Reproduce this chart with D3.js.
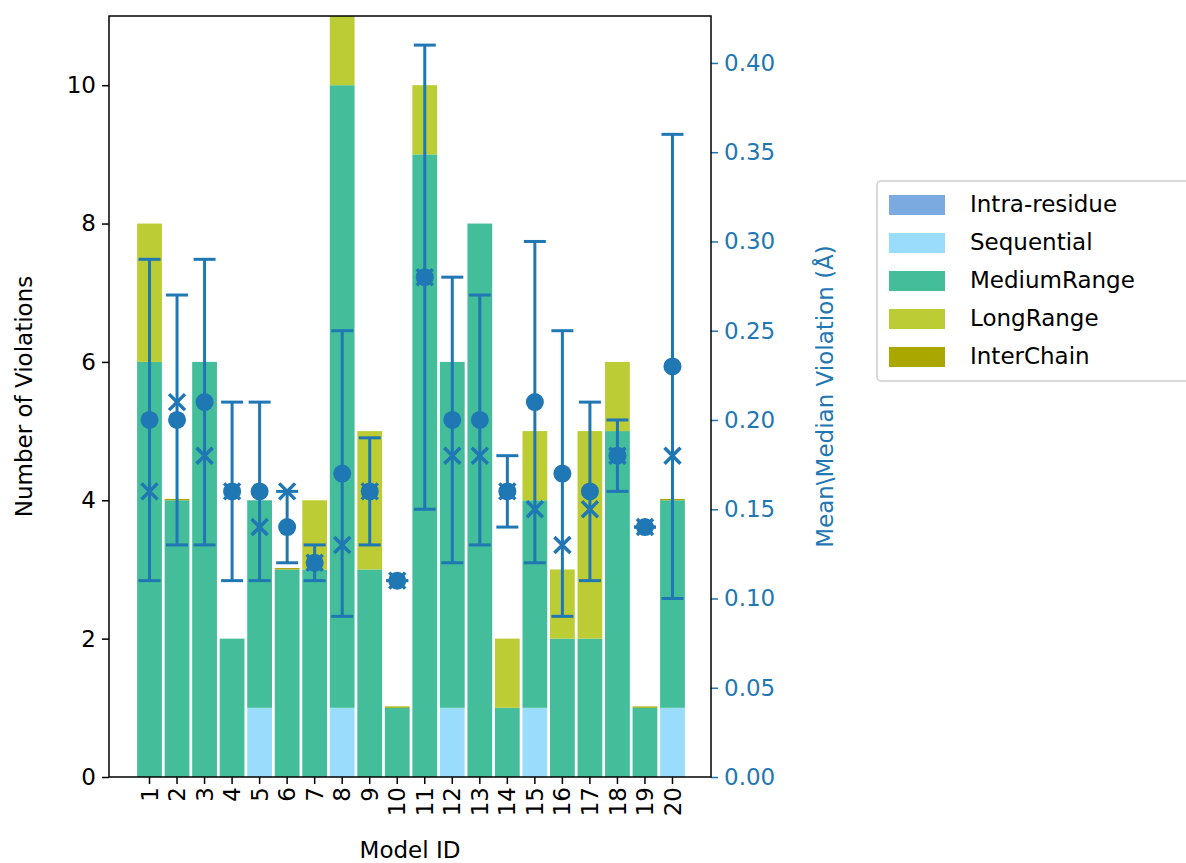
<!DOCTYPE html>
<html><head><meta charset="utf-8">
<script src="https://cdn.jsdelivr.net/npm/d3@7"></script>
<style>body{margin:0;background:#fff}text{font-family:"DejaVu Sans",sans-serif}</style>
</head><body><svg id="chart" width="1186" height="863"></svg>
<script>
const models = d3.range(1, 21).map(String);
const intraResidue = [0,0,0,0,0,0,0,0,0,0,0,0,0,0,0,0,0,0,0,0];
const sequential   = [0,0,0,0,1,0,0,1,0,0,0,1,0,0,1,0,0,0,0,1];
const mediumRange  = [6,4,6,2,3,3,3,9,3,1,9,5,8,1,3,2,2,5,1,3];
const longRange    = [2,0,0,0,0,0,1,1.2,2,0,1,0,0,1,1,1,3,1,0,0];
const interChain   = [0,0.02,0,0,0,0.02,0,0,0,0.02,0,0,0,0,0,0,0,0,0.02,0.02];
const meanViol   = [0.20,0.20,0.21,0.16,0.16,0.14,0.12,0.17,0.16,0.11,0.28,0.20,0.20,0.16,0.21,0.17,0.16,0.18,0.14,0.23];
const medianViol = [0.16,0.21,0.18,0.16,0.14,0.16,0.12,0.13,0.16,0.11,0.28,0.18,0.18,0.16,0.15,0.13,0.15,0.18,0.14,0.18];
const errLow  = [0.11,0.13,0.13,0.11,0.11,0.12,0.11,0.09,0.13,0.11,0.15,0.12,0.13,0.14,0.12,0.09,0.11,0.16,0.14,0.10];
const errHigh = [0.29,0.27,0.29,0.21,0.21,0.16,0.13,0.25,0.19,0.11,0.41,0.28,0.27,0.18,0.30,0.25,0.21,0.20,0.14,0.36];
const seriesNames = ["Intra-residue","Sequential","MediumRange","LongRange","InterChain"];
const seriesData = [intraResidue, sequential, mediumRange, longRange, interChain];
const colors = ["#7aaadf","#9adcfc","#44bd9a","#bccc34","#aaa800"];
const blue = "#1f77b4";

const svg = d3.select("#chart");
const L = 109, R = 711, T = 16, B = 777;
// bars sit inside matplotlib-style margins
const x = d3.scaleBand().domain(models).range([135.75, 686.25]).paddingInner(0.1).paddingOuter(0.05);
const y = d3.scaleLinear().domain([0, 11]).range([B, T]);
const y2 = d3.scaleLinear().domain([0, 0.4263]).range([B, T]);

const g = svg.append("g");
models.forEach((m, i) => {
  let base = 0;
  seriesData.forEach((s, k) => {
    const v = s[i];
    if (v > 0) {
      g.append("rect").attr("x", x(m)).attr("width", x.bandwidth())
        .attr("y", y(Math.min(base + v, 11))).attr("height", y(base) - y(Math.min(base + v, 11)))
        .attr("fill", colors[k]);
    }
    base += v;
  });
});

// error bars
const cx = m => x(m) + x.bandwidth() / 2;
models.forEach((m, i) => {
  const c = cx(m);
  g.append("line").attr("x1", c).attr("x2", c).attr("y1", y2(errLow[i])).attr("y2", y2(errHigh[i]))
    .attr("stroke", blue).attr("stroke-width", 3);
  [errLow[i], errHigh[i]].forEach(v => g.append("line").attr("x1", c - 11).attr("x2", c + 11)
    .attr("y1", y2(v)).attr("y2", y2(v)).attr("stroke", blue).attr("stroke-width", 3));
  g.append("circle").attr("cx", c).attr("cy", y2(meanViol[i])).attr("r", 9).attr("fill", blue);
  const my = y2(medianViol[i]);
  g.append("path").attr("d", `M${c-8},${my-8}L${c+8},${my+8}M${c-8},${my+8}L${c+8},${my-8}`)
    .attr("stroke", blue).attr("stroke-width", 3.5);
});

// axes
const fs = 23;
const ax = svg.append("g").attr("transform", `translate(0,${B})`)
  .call(d3.axisBottom(x).tickSize(7).tickPadding(4));
ax.selectAll("text").attr("transform", "rotate(-90)").attr("text-anchor", "end")
  .attr("x", -10).attr("y", 0).attr("dy", "0.35em").attr("font-size", fs).attr("fill", "#000");
const ay = svg.append("g").attr("transform", `translate(${L},0)`)
  .call(d3.axisLeft(y).tickValues([0,2,4,6,8,10]).tickSize(7).tickPadding(6));
ay.selectAll("text").attr("font-size", fs).attr("fill", "#000");
const ay2 = svg.append("g").attr("transform", `translate(${R},0)`)
  .call(d3.axisRight(y2).tickValues(d3.range(0, 0.41, 0.05)).tickFormat(d3.format(".2f")).tickSize(7).tickPadding(6));
ay2.selectAll("text").attr("font-size", fs).attr("fill", blue);
ay2.selectAll("line").attr("stroke", blue);
[ax, ay, ay2].forEach(a => { a.select(".domain").remove(); a.selectAll("line").attr("stroke-width", 1.5); });
svg.append("rect").attr("x", L).attr("y", T).attr("width", R - L).attr("height", B - T)
  .attr("fill", "none").attr("stroke", "#000").attr("stroke-width", 1.5);

svg.append("text").attr("x", (L + R) / 2).attr("y", 858).attr("text-anchor", "middle")
  .attr("font-size", fs).text("Model ID");
svg.append("text").attr("transform", `translate(32,${(T+B)/2}) rotate(-90)`).attr("text-anchor", "middle")
  .attr("font-size", fs).text("Number of Violations");
svg.append("text").attr("transform", `translate(833,${(T+B)/2}) rotate(-90)`).attr("text-anchor", "middle")
  .attr("font-size", fs).attr("fill", blue).text("Mean\\Median Violation (Å)");

// legend
const lg = svg.append("g").attr("transform", "translate(877,181)");
lg.append("rect").attr("width", 320).attr("height", 200).attr("rx", 4).attr("fill", "#fff")
  .attr("stroke", "#ccc").attr("stroke-width", 1.5);
seriesNames.forEach((n, k) => {
  lg.append("rect").attr("x", 12).attr("y", 14 + k * 38).attr("width", 56).attr("height", 20).attr("fill", colors[k]);
  lg.append("text").attr("x", 93).attr("y", 31 + k * 38).attr("font-size", fs).text(n);
});
</script></body></html>
